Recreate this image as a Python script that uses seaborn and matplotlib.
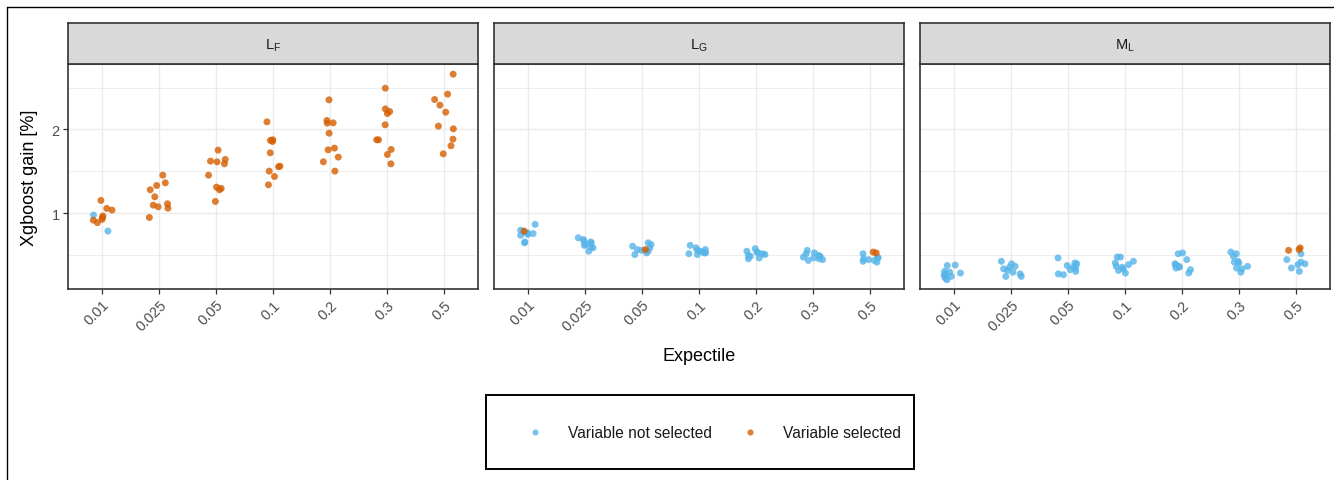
import numpy as np
import pandas as pd
import matplotlib
matplotlib.use("Agg")
import matplotlib.pyplot as plt
from matplotlib.lines import Line2D
from matplotlib.patches import Rectangle
import seaborn as sns

# ---- data -------------------------------------------------------------
expectiles = ["0.01", "0.025", "0.05", "0.1", "0.2", "0.3", "0.5"]
panels = ["LF", "LG", "ML"]
panel_titles = [r"$\mathregular{L_F}$", r"$\mathregular{L_G}$", r"$\mathregular{M_L}$"]
status_levels = ["Variable not selected", "Variable selected"]

# Xgboost gain [%] per expectile, split by selection status
lf_selected = [
    [1.155, 1.06, 1.04, 0.97, 0.95, 0.92, 0.89, 0.93],
    [1.456, 1.365, 1.333, 1.282, 1.198, 1.115, 1.099, 1.079, 1.063, 0.952],
    [1.754, 1.643, 1.623, 1.615, 1.591, 1.456, 1.313, 1.298, 1.282, 1.143],
    [2.091, 1.877, 1.87, 1.857, 1.722, 1.563, 1.556, 1.504, 1.44, 1.341],
    [2.353, 2.107, 2.079, 2.075, 1.956, 1.778, 1.758, 1.671, 1.615, 1.504],
    [2.492, 2.246, 2.214, 2.19, 2.056, 1.877, 1.877, 1.762, 1.702, 1.591],
    [2.659, 2.421, 2.357, 2.29, 2.206, 2.04, 2.008, 1.885, 1.806, 1.71],
]
lf_not_selected = [[0.98, 0.79], [], [], [], [], [], []]

lg_selected = [[0.79], [], [0.57], [], [], [], [0.54, 0.53]]
lg_not_selected = [
    [0.87, 0.80, 0.78, 0.77, 0.76, 0.75, 0.74, 0.66, 0.65],
    [0.71, 0.69, 0.67, 0.66, 0.65, 0.63, 0.62, 0.60, 0.59, 0.55],
    [0.65, 0.63, 0.61, 0.59, 0.57, 0.56, 0.55, 0.53, 0.51],
    [0.62, 0.59, 0.57, 0.56, 0.55, 0.54, 0.53, 0.53, 0.52, 0.51],
    [0.58, 0.55, 0.54, 0.53, 0.52, 0.51, 0.50, 0.49, 0.47, 0.46],
    [0.56, 0.53, 0.52, 0.50, 0.49, 0.48, 0.47, 0.46, 0.45, 0.44],
    [0.52, 0.48, 0.47, 0.46, 0.45, 0.44, 0.42, 0.43],
]

ml_selected = [[], [], [], [], [], [], [0.59, 0.57, 0.56]]
ml_not_selected = [
    [0.385, 0.38, 0.31, 0.30, 0.29, 0.28, 0.26, 0.25, 0.23, 0.21],
    [0.43, 0.40, 0.37, 0.36, 0.34, 0.32, 0.30, 0.28, 0.25, 0.25],
    [0.47, 0.41, 0.40, 0.38, 0.36, 0.35, 0.33, 0.31, 0.28, 0.27],
    [0.48, 0.48, 0.43, 0.41, 0.39, 0.37, 0.36, 0.34, 0.32, 0.29],
    [0.53, 0.52, 0.45, 0.40, 0.39, 0.37, 0.36, 0.35, 0.33, 0.29],
    [0.54, 0.52, 0.49, 0.43, 0.42, 0.41, 0.37, 0.35, 0.34, 0.30],
    [0.52, 0.45, 0.42, 0.40, 0.39, 0.35, 0.31],
]

selected_by_panel = {"LF": lf_selected, "LG": lg_selected, "ML": ml_selected}
not_selected_by_panel = {"LF": lf_not_selected, "LG": lg_not_selected, "ML": ml_not_selected}

rows = []
for p in panels:
    for status, groups in ((status_levels[0], not_selected_by_panel[p]),
                           (status_levels[1], selected_by_panel[p])):
        for e, vals in zip(expectiles, groups):
            for v in vals:
                rows.append((p, e, v, status))
df = pd.DataFrame(rows, columns=["panel", "expectile", "gain", "status"])

# ---- style ------------------------------------------------------------
sns.set_theme(style="white")
plt.rcParams["font.family"] = ["Liberation Sans", "DejaVu Sans"]
plt.rcParams["mathtext.default"] = "regular"

palette = {status_levels[0]: "#56B4E9", status_levels[1]: "#D55E00"}
grey20 = "#333333"
grey30 = "#4D4D4D"
grid_col = "#EBEBEB"

W, H = 1334, 481
fig = plt.figure(figsize=(W / 100, H / 100), dpi=100)


def fx(px):
    return px / W


def fy(py):
    return 1 - py / H


panel_lefts = [68, 494, 920]
panel_w = 410
panel_top, panel_bot, strip_top = 64.5, 290, 24

np.random.seed(7)
for i, (p, title) in enumerate(zip(panels, panel_titles)):
    left = panel_lefts[i]
    ax = fig.add_axes([fx(left), fy(panel_bot), panel_w / W, (panel_bot - panel_top) / H])
    sub = df[df["panel"] == p]
    sns.stripplot(data=sub, x="expectile", y="gain", hue="status",
                  order=expectiles, hue_order=status_levels, palette=palette,
                  jitter=0.18, size=5.0, alpha=0.8, linewidth=0,
                  legend=False, ax=ax, zorder=3)
    ax.set_xlim(-0.6, len(expectiles) - 0.4)
    ax.set_ylim(0.1, 2.786)
    ax.set_yticks([1, 2])
    ax.set_yticks([0.5, 1.5, 2.5], minor=True)
    ax.set_axisbelow(True)
    ax.grid(True, which="major", color=grid_col, linewidth=1.0)
    ax.grid(True, which="minor", axis="y", color=grid_col, linewidth=0.6)
    ax.set_xlabel("")
    ax.set_ylabel("")
    ax.set_facecolor("white")
    for s in ax.spines.values():
        s.set_visible(True)
        s.set_color(grey20)
        s.set_linewidth(1.2)
    ax.tick_params(axis="both", which="major", length=3.5, width=0.9,
                   color=grey20, labelcolor=grey30, labelsize=10.5, pad=2.5,
                   bottom=True, left=(i == 0))
    ax.tick_params(axis="y", which="minor", length=0)
    if i == 0:
        ax.set_yticklabels(["1", "2"])
    else:
        ax.set_yticklabels([])
    ax.set_xticks(range(len(expectiles)))
    ax.set_xticklabels(expectiles, rotation=45, ha="right", rotation_mode="anchor")

    # facet strip
    sax = fig.add_axes([fx(left), fy(panel_top), panel_w / W, (panel_top - strip_top) / H])
    sax.set_facecolor("#D9D9D9")
    sax.set_xticks([])
    sax.set_yticks([])
    for s in sax.spines.values():
        s.set_visible(True)
        s.set_color(grey20)
        s.set_linewidth(1.2)
    sax.text(0.5, 0.45, title, ha="center", va="center", fontsize=10.5,
             color="#1A1A1A", transform=sax.transAxes)

# axis titles
fig.text(fx(699), fy(357), "Expectile", ha="center", va="center", fontsize=13, color="black")
fig.text(fx(30), fy(178), "Xgboost gain [%]", ha="center", va="center",
         rotation=90, fontsize=13, color="black")

# legend with its own box
fig.add_artist(Rectangle((fx(486), fy(470)), (914 - 486) / W, (470 - 396) / H,
                         transform=fig.transFigure, fill=False,
                         edgecolor="black", linewidth=1.4))
handles = [Line2D([], [], linestyle="none", marker="o", markersize=4.4,
                  markerfacecolor=palette[s], markeredgewidth=0, alpha=0.8)
           for s in status_levels]
fig.legend(handles, status_levels, loc="center", bbox_to_anchor=(fx(714), fy(434)),
           ncol=2, frameon=False, fontsize=11.2, handlelength=1.0,
           handletextpad=1.65, columnspacing=1.95, labelcolor="#1A1A1A")

# outer frame (top and left edges)
fig.add_artist(Line2D([fx(7), 1.0], [fy(8), fy(8)], transform=fig.transFigure,
                      color="black", linewidth=1.0))
fig.add_artist(Line2D([fx(7), fx(7)], [fy(8), 0.0], transform=fig.transFigure,
                      color="black", linewidth=1.0))

fig.savefig("out.png", dpi=100, facecolor="white")
